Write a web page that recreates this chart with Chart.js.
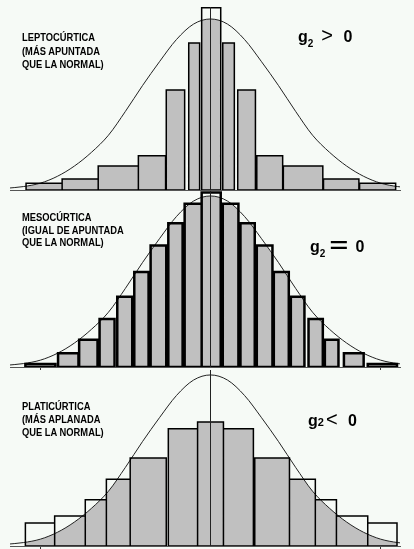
<!DOCTYPE html>
<html>
<head>
<meta charset="utf-8">
<script src="https://cdn.jsdelivr.net/npm/chart.js@4.4.1/dist/chart.umd.min.js"></script>
<style>
    html, body { margin: 0; padding: 0; background: #f6faf6; }
    #wrap { position: relative; width: 414px; height: 549px; overflow: hidden; }
    canvas { position: absolute; left: 0; }
    .lbl { position: absolute; left: 22px; font: bold 11px/13.5px "Liberation Sans", Arial, sans-serif; color: #000; white-space: nowrap; transform: scaleX(0.85); transform-origin: 0 0; }
    .g2 { position: absolute; font: bold 16px "Liberation Sans", Arial, sans-serif; color: #000; white-space: nowrap; }
    .g2 .s { font-size: 10px; position: relative; top: 5px; }
    .g2 .op { display: inline-block; font-size: 20px; font-weight: normal; margin: 0 6px 0 8px; }
</style>
</head>
<body>
<div id="wrap">
    <canvas id="lepto" width="414" height="193" style="top:0px"></canvas>
    <canvas id="meso" width="414" height="180" style="top:190px"></canvas>
    <canvas id="plati" width="414" height="179" style="top:370px"></canvas>

    <div class="lbl" style="top:31px">LEPTOCÚRTICA<br>(MÁS APUNTADA<br>QUE LA NORMAL)</div>
    <div class="lbl" style="top:211px;line-height:12.7px">MESOCÚRTICA<br>(IGUAL DE APUNTADA<br>QUE LA NORMAL)</div>
    <div class="lbl" style="top:400px;line-height:13px">PLATICÚRTICA<br>(MÁS APLANADA<br>QUE LA NORMAL)</div>

    <div class="g2" style="top:24px;left:298px">g<span class="s">2</span><span class="op">&gt;</span>&nbsp;0</div>
    <div class="g2" style="top:234px;left:310px">g<span class="s">2</span><span class="op" style="transform:scaleX(1.6);font-weight:bold">=</span>&nbsp;0</div>
    <div class="g2" style="top:408px;left:308px">g<span style="font-size:11px">2</span><span class="op" style="margin-left:2px">&lt;</span>&nbsp;0</div>
</div>

<script>
// curva normal de referencia (x en desviaciones típicas)
const curveX = [-3, -2.75, -2.5, -2.25, -2, -1.75, -1.5, -1.25, -1, -0.75, -0.5, -0.25, 0,
    0.25, 0.5, 0.75, 1, 1.25, 1.5, 1.75, 2, 2.25, 2.5, 2.75, 3];
const curveY = [0.01, 0.02, 0.04, 0.08, 0.14, 0.22, 0.32, 0.46, 0.61, 0.75, 0.88, 0.97, 1,
    0.97, 0.88, 0.75, 0.61, 0.46, 0.32, 0.22, 0.14, 0.08, 0.04, 0.02, 0.01];

// leptocúrtica
const lepLeft = [-2.71, -2.18, -1.65, -1.06, -0.65, -0.32, -0.13, 0.18, 0.40, 0.68, 1.07, 1.66, 2.19];
const lepRight = [-2.18, -1.65, -1.06, -0.66, -0.38, -0.16, 0.15, 0.35, 0.66, 1.06, 1.65, 2.18, 2.72];
const lepFreq = [0.04, 0.065, 0.14, 0.2, 0.585, 0.86, 1.065, 0.86, 0.585, 0.2, 0.14, 0.065, 0.04];

// mesocúrtica
const mesoLeft = [-2.72, -2.24, -1.93, -1.63, -1.37, -1.12, -0.88, -0.62, -0.38, -0.13,
    0.18, 0.44, 0.68, 0.93, 1.18, 1.44, 1.68, 1.96, 2.31];
const mesoRight = [-2.28, -1.94, -1.66, -1.41, -1.15, -0.91, -0.65, -0.41, -0.13, 0.15,
    0.41, 0.65, 0.91, 1.15, 1.38, 1.65, 1.88, 2.25, 2.74];
const mesoFreq = [0.018, 0.08, 0.16, 0.28, 0.41, 0.555, 0.71, 0.84, 0.955, 1.02,
    0.955, 0.84, 0.71, 0.555, 0.41, 0.28, 0.16, 0.08, 0.018];

// platicúrtica
const platiLeft = [-2.72, -2.29, -1.84, -1.53, -1.18, -0.62, -0.19, 0.19, 0.65, 1.16, 1.54, 1.85, 2.31];
const platiRight = [-2.29, -1.84, -1.53, -1.18, -0.65, -0.19, 0.19, 0.63, 1.16, 1.54, 1.85, 2.31, 2.74];
const platiFreq = [0.135, 0.175, 0.27, 0.39, 0.515, 0.685, 0.725, 0.685, 0.515, 0.39, 0.27, 0.175, 0.135];

const BG = '#f6faf6';

const curve = curveX.map((x, i) => ({ x: x, y: curveY[i] }));

function barFill(left, right, freq) {
    const pts = [];
    left.forEach((l, i) => {
        pts.push({ x: l, y: 0 }, { x: l, y: freq[i] }, { x: right[i], y: freq[i] }, { x: right[i], y: 0 });
        pts.push({ x: right[i], y: null });
    });
    return pts;
}

function barOutline(left, right, freq) {
    const pts = [];
    left.forEach((l, i) => {
        pts.push({ x: l, y: 0 }, { x: l, y: freq[i] }, { x: right[i], y: freq[i] }, { x: right[i], y: 0 }, { x: l, y: 0 });
        pts.push({ x: right[i], y: null });
    });
    return pts;
}

function makeChart(id, left, right, freq, opts) {
    new Chart(document.getElementById(id), {
        type: 'line',
        data: {
            datasets: [
                { data: barFill(left, right, freq), fill: 'origin', backgroundColor: '#c0c0c0', borderWidth: 0, order: 5 },
                { data: curve, fill: 'end', backgroundColor: BG, borderColor: '#222', borderWidth: 1, cubicInterpolationMode: 'monotone', order: 4 },
                { data: barOutline(left, right, freq), fill: false, borderColor: '#000', borderWidth: opts.bw, borderJoinStyle: 'miter', order: 3 },
                { data: [{ x: 0, y: 0 }, { x: 0, y: opts.top }], fill: false, borderColor: '#222', borderWidth: 1, order: 2 }
            ]
        },
        options: {
            responsive: false,
            animation: false,
            layout: { padding: { left: 10, right: 14, top: opts.padTop, bottom: 0 } },
            elements: { point: { radius: 0 }, line: { tension: 0 } },
            scales: {
                x: {
                    type: 'linear', min: -2.946, max: 2.784,
                    border: { color: '#555', width: 1 },
                    grid: { drawOnChartArea: false, tickLength: 3, color: opts.tickColor },
                    ticks: { display: false },
                    afterBuildTicks: (s) => { s.ticks = [{ value: -2.5 }, { value: 2.5 }]; }
                },
                y: { display: false, min: 0, max: opts.ymax }
            },
            plugins: { legend: { display: false }, tooltip: { enabled: false } }
        }
    });
}

makeChart('lepto', lepLeft, lepRight, lepFreq, { bw: 1.5, top: 1.07, ymax: 1.111, padTop: 0, tickColor: 'rgba(0,0,0,0)' });
makeChart('meso', mesoLeft, mesoRight, mesoFreq, { bw: 2.5, top: 1.029, ymax: 1.029, padTop: 1, tickColor: '#333' });
makeChart('plati', platiLeft, platiRight, platiFreq, { bw: 1.5, top: 1.029, ymax: 1.029, padTop: 0, tickColor: '#333' });
</script>
</body>
</html>
